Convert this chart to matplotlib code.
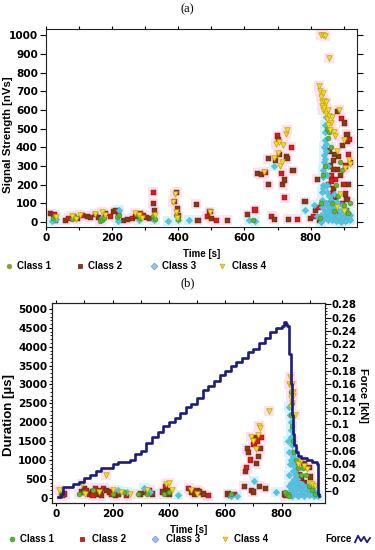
import matplotlib
matplotlib.use("Agg")
import matplotlib.pyplot as plt
from matplotlib.lines import Line2D
import numpy as np

plt.rcParams['font.family'] = ['Liberation Sans', 'DejaVu Sans']

# ---------------- Panel (a) data: Signal Strength [nVs] vs Time [s] ----------------
a_c1_t = [22, 28, 80, 85, 165, 170, 175, 215, 222, 280, 285, 325, 330, 392, 398, 625,
          828, 832, 838, 842, 848, 852, 856, 860, 865, 870, 876, 882, 888, 894, 900, 906, 912, 918]
a_c1_v = [20, 35, 15, 30, 5, 10, 20, 25, 40, 40, 20, 30, 15, 40, 15, 10,
          20, 100, 250, 300, 500, 450, 480, 400, 100, 60, 200, 140, 320, 280, 90, 60, 50, 100]

a_c2_t = [15, 25, 30, 60, 70, 85, 95, 110, 125, 135, 150, 160, 180, 195, 205, 212, 220, 235, 248,
          262, 272, 285, 295, 305, 315, 325, 325, 328, 388, 395, 397, 400, 455, 460, 488, 496, 500,
          515, 548, 610, 632, 640, 652, 662, 672, 672, 682, 690, 695, 700, 703, 706, 712, 716, 720,
          722, 726, 730, 742, 747, 733, 760, 783, 800, 808, 815, 820, 823, 828, 848, 855, 858, 860,
          864, 868, 870, 874, 882, 885, 892, 896, 902, 905, 910, 912, 915, 914, 905, 895, 886, 876,
          866, 880, 890, 900, 910, 920, 862, 868, 872, 918, 908, 898]
a_c2_v = [45, 40, 10, 10, 20, 30, 20, 35, 30, 25, 40, 25, 45, 30, 55, 60, 45, 10, 15,
          20, 30, 45, 35, 25, 20, 160, 100, 60, 110, 160, 70, 35, 95, 10, 30, 55, 20,
          10, 10, 40, 65, 260, 255, 265, 340, 200, 30, 15, 330, 460, 440, 360, 260, 200, 225,
          130, 350, 340, 400, 275, 15, 15, 110, 20, 30, 60, 230, 80, 10, 100, 200, 380, 300,
          250, 330, 180, 230, 590, 350, 555, 410, 530, 300, 470, 430, 360, 200, 150, 100, 50, 130,
          150, 280, 250, 200, 120, 320, 220, 280, 360, 440, 60, 30]

a_c3_t = [20, 30, 170, 220, 218, 282, 328, 368, 398, 433, 615, 632, 690, 782, 810, 820,
          830, 832, 833, 834, 835, 836, 837, 838, 839, 840, 841, 842, 843, 844, 846,
          835, 840, 845, 850, 852, 855, 858, 860, 862, 865, 868, 870, 872, 875, 878, 880, 883, 886,
          889, 892, 895, 898, 901, 904, 907, 910, 913, 916, 920, 845, 850, 848, 852, 846, 850, 855, 842,
          836, 838, 840, 843, 846, 849, 853, 857, 861, 866, 871, 877, 884, 891, 898, 905, 912, 918]
a_c3_v = [5, 15, 20, 65, 5, 10, 10, 5, 10, 10, 10, 5, 300, 65, 90, 30,
          0, 40, 80, 120, 160, 200, 240, 280, 320, 360, 400, 440, 480, 520, 560,
          10, 30, 20, 50, 10, 80, 30, 120, 60, 15, 90, 40, 150, 20, 70, 110, 35, 10,
          60, 25, 90, 45, 15, 70, 30, 10, 50, 20, 40, 100, 160, 250, 300, 380, 200, 140, 60,
          100, 180, 260, 340, 420, 60, 20, 100, 40, 10, 70, 5, 30, 0, 20, 5, 30, 10]

a_c4_t = [30, 80, 90, 102, 150, 170, 178, 270, 282, 292, 330, 385, 390, 393, 396, 495, 660,
          695, 700, 704, 708, 713, 718, 725, 730, 690, 832, 838, 843, 856, 826, 829, 831, 833, 835,
          838, 841, 845, 848, 851, 855, 860, 864, 870, 875, 880, 886, 900, 905, 915, 920, 890, 900,
          880, 836, 840, 846, 852, 858]
a_c4_v = [25, 30, 15, 40, 45, 55, 40, 50, 40, 20, 40, 110, 150, 55, 20, 55, 270,
          420, 370, 430, 300, 320, 410, 470, 490, 345, 1000, 1000, 995, 880, 730, 700, 670, 640, 620,
          600, 610, 580, 550, 600, 570, 530, 560, 480, 460, 380, 600, 440, 290, 330, 310, 150, 60,
          80, 690, 650, 640, 520, 490]

# ---------------- Panel (b) data: Duration [us] vs Time [s], Force [kN] ----------------
b_c1_t = [15, 80, 100, 132, 200, 240, 290, 322, 382, 402, 622, 812, 822, 832, 836, 840, 844,
          850, 858, 868, 878, 888, 898, 908, 918, 826, 835, 838]
b_c1_v = [100, 100, 150, 200, 100, 150, 100, 100, 100, 150, 100, 150, 100, 2800, 2500, 1500, 1200,
          1000, 800, 600, 800, 600, 300, 200, 100, 50, 2200, 1900]

b_c2_t = [20, 30, 90, 100, 108, 118, 128, 138, 148, 158, 168, 178, 188, 198, 210, 220, 250, 300,
          318, 332, 342, 378, 388, 394, 400, 470, 480, 490, 500, 510, 522, 540, 610, 620, 632, 668,
          672, 676, 678, 684, 690, 694, 700, 702, 706, 710, 714, 718, 724, 728, 722, 742, 810, 816,
          852, 862, 872, 882, 892, 902, 912, 922, 880, 898, 870, 160, 140, 130]
b_c2_v = [50, 100, 150, 250, 200, 100, 150, 250, 200, 100, 250, 200, 150, 100, 50, 100, 50, 100,
          150, 200, 100, 150, 300, 200, 100, 250, 150, 100, 200, 150, 100, 50, 100, 50, 80, 300,
          700, 800, 1300, 1200, 1000, 200, 150, 1400, 1600, 900, 1500, 1100, 1300, 1600, 300, 250, 100, 50,
          900, 600, 500, 400, 200, 550, 300, 100, 900, 800, 300, 50, 100, 50]

b_c3_t = [220, 250, 310, 332, 432, 622, 642, 702, 782,
          828, 830, 832, 833, 835, 836, 838, 840, 842, 845, 848, 850, 855, 860, 865, 870,
          820, 825, 828, 830, 826, 824, 832, 835, 838, 842, 845, 850, 852, 856, 860, 864, 868, 872,
          876, 880, 884, 888, 892, 896, 900, 905, 910, 915, 920, 925, 930, 840, 845, 835]
b_c3_v = [200, 150, 250, 150, 80, 50, 50, 450, 150,
          2400, 2200, 2000, 1800, 1600, 1400, 1200, 1100, 950, 850, 700, 600, 500, 400, 300, 250,
          100, 300, 600, 900, 1200, 1500, 400, 200, 50, 300, 150, 400, 100, 250, 50, 200, 100, 350,
          150, 50, 250, 120, 300, 60, 200, 100, 250, 50, 150, 80, 40, 700, 500, 1000]

b_c4_t = [10, 90, 102, 150, 175, 200, 230, 262, 322, 390, 400, 410, 480, 500, 690, 700, 710, 715,
          720, 725, 755, 830, 828, 833, 838, 842, 835, 838, 832, 848, 860, 880, 900, 910, 920, 870,
          890, 836, 840]
b_c4_v = [200, 350, 100, 150, 600, 200, 150, 100, 200, 350, 400, 200, 200, 100, 1600, 1500, 1300, 1650,
          1900, 1850, 2300, 3200, 3000, 2950, 3000, 2800, 2650, 2500, 2400, 2200, 900, 850, 400, 350, 300, 1000,
          750, 2800, 2700]

force_t = [5, 15, 25, 60, 80, 100, 120, 140, 160, 200, 220, 260, 280, 300, 320, 340, 360, 380,
           400, 420, 440, 460, 480, 500, 520, 540, 560, 580, 600, 620, 640, 660, 680, 700, 720, 740,
           760, 780, 800, 810, 815, 820, 825, 828, 832, 836, 840, 845, 850, 860, 870, 890, 910, 925,
           928, 935]
force_kN = [-0.0083, -0.0044, 0.0058, 0.0098, 0.0137, 0.0194, 0.024, 0.0307, 0.0352, 0.041, 0.0437,
            0.0466, 0.055, 0.0607, 0.072, 0.0805, 0.089, 0.0975, 0.103, 0.109, 0.117, 0.126, 0.131,
            0.140, 0.151, 0.157, 0.165, 0.174, 0.180, 0.188, 0.194, 0.199, 0.208, 0.213, 0.222, 0.230,
            0.239, 0.245, 0.248, 0.253, 0.250, 0.248, 0.233, 0.205, 0.160, 0.114, 0.086, 0.069, 0.058,
            0.052, 0.0494, 0.047, 0.0437, 0.041, -0.0044, -0.0072]

# ---------------- styles ----------------
C1_FACE, C1_EDGE = '#5cb82e', '#3d8a1a'
C2_BROWN, C2_RED = '#8a3a12', '#d81c1c'
C3_FACE, C3_EDGE = '#36d4dc', '#9a92e0'
C4_FACE, C4_EDGE = '#eae21a', '#d09a10'
HALO_PINK, HALO_CYAN = '#fbe1f3', '#d4f6fa'
NAVY = '#1c1c7e'


def draw_classes(ax, c1, c2, c3, c4):
    for (t, v), col in [(c2, HALO_PINK), (c4, HALO_PINK), (c1, HALO_PINK), (c3, HALO_CYAN)]:
        ax.scatter(t, v, s=60, marker='s', color=col, linewidths=0, zorder=1)
    c2cols = [C2_RED if i % 3 == 1 else C2_BROWN for i in range(len(c2[0]))]
    ax.scatter(c2[0], c2[1], s=14, marker='s', c=c2cols, edgecolors='#5a200a', linewidths=0.3, zorder=3)
    ax.scatter(c3[0], c3[1], s=11, marker='D', color=C3_FACE, edgecolors=C3_EDGE, linewidths=0.4, zorder=4)
    ax.scatter(c1[0], c1[1], s=12, marker='o', color=C1_FACE, edgecolors=C1_EDGE, linewidths=0.4, zorder=4)
    ax.scatter(c4[0], c4[1], s=16, marker='v', color=C4_FACE, edgecolors=C4_EDGE, linewidths=0.5, zorder=5)


def style_axis(ax, size, ylen, ypad, xlen=2.5, xpad=1.5):
    ax.tick_params(which='major', direction='out', width=0.8)
    ax.tick_params(axis='x', which='major', length=xlen, pad=xpad)
    ax.tick_params(axis='y', which='major', length=ylen, pad=ypad)
    for lab in ax.get_xticklabels() + ax.get_yticklabels():
        lab.set_fontfamily('DejaVu Sans')
        lab.set_fontweight('bold')
        lab.set_fontsize(size)
    for sp in ax.spines.values():
        sp.set_linewidth(0.8)
        sp.set_color('#222222')


fig = plt.figure(figsize=(3.75, 5.5), dpi=100)

# ---------------- Panel (a) ----------------
axa = fig.add_axes([0.122, 0.587, 0.830, 0.360])
draw_classes(axa, (a_c1_t, a_c1_v), (a_c2_t, a_c2_v), (a_c3_t, a_c3_v), (a_c4_t, a_c4_v))
axa.set_xlim(0, 940)
axa.set_ylim(-27, 1032)
xt = list(range(0, 901, 100))
axa.set_xticks(xt)
axa.set_xticklabels([str(x) if x % 200 == 0 else '' for x in xt])
axa.set_yticks(range(0, 1001, 100))
axa.tick_params(top=True, right=True)
style_axis(axa, 7.6, ylen=4.5, ypad=1.2)
axa.set_xlabel('Time [s]', fontsize=7, fontweight='bold')
axa.xaxis.set_label_coords(0.5, -0.111)
axa.set_ylabel('Signal Strength [nVs]', fontsize=8.2, fontweight='bold', va='center')
axa.yaxis.set_label_coords(-0.120, 0.465)
fig.text(0.5, 0.984, '(a)', ha='center', va='center', fontsize=9, family='Liberation Serif')

# ---------------- Panel (b) ----------------
axb = fig.add_axes([0.139, 0.0855, 0.728, 0.3636])
draw_classes(axb, (b_c1_t, b_c1_v), (b_c2_t, b_c2_v), (b_c3_t, b_c3_v), (b_c4_t, b_c4_v))
axb.set_xlim(-15, 955)
axb.set_ylim(-140, 5160)
xt = list(range(0, 901, 100))
axb.set_xticks(xt)
axb.set_xticklabels([str(x) if x % 200 == 0 else '' for x in xt])
axb.set_yticks(range(0, 5001, 500))
axb.set_yticks(range(0, 5001, 100), minor=True)
axb.tick_params(top=True)
axb.tick_params(which='minor', direction='out', length=1.5, width=0.6)
style_axis(axb, 7.6, ylen=2.5, ypad=1.0)
axb.set_xlabel('Time [s]', fontsize=7, fontweight='bold')
axb.xaxis.set_label_coords(0.5, -0.11)
axb.set_ylabel('Duration [µs]', fontsize=9.5, fontweight='bold', va='center')
axb.yaxis.set_label_coords(-0.158, 0.44)

axf = axb.twinx()
axf.step(force_t, force_kN, where='post', color=NAVY, lw=1.9, zorder=6)
axf.set_ylim(-0.018, 0.282)
ft = [round(0.02 * i, 2) for i in range(15)]
axf.set_yticks(ft)
axf.set_yticklabels(['%g' % f for f in ft])
axf.set_yticks([round(0.005 * i, 3) for i in range(57)], minor=True)
axf.tick_params(which='minor', direction='out', length=1.5, width=0.6)
style_axis(axf, 7.3, ylen=4.0, ypad=0.5)
axf.set_ylabel('Force [kN]', fontsize=8, fontweight='bold', rotation=270, va='center')
axf.yaxis.set_label_coords(1.139, 0.54)
fig.text(0.5, 0.485, '(b)', ha='center', va='center', fontsize=9, family='Liberation Serif')

# ---------------- legends ----------------
def legend_row(y, items):
    for (xm, xt_, marker, face, edge, label) in items:
        fig.add_artist(Line2D([xm], [y], marker=marker, markersize=3.4, markerfacecolor=face,
                              markeredgecolor=edge, markeredgewidth=0.5, linestyle='none',
                              transform=fig.transFigure))
        fig.text(xt_, y, label, ha='left', va='center', fontsize=7, fontweight='bold')

ya = 1 - 266 / 550
legend_row(ya, [(9 / 375, 17 / 375, 'o', C1_FACE, '#d08020', 'Class 1'),
                (80 / 375, 88 / 375, 's', C2_BROWN, '#5a200a', 'Class 2'),
                (154 / 375, 162 / 375, 'D', '#9ac4ea', '#7090d0', 'Class 3'),
                (222 / 375, 232 / 375, 'v', C4_FACE, C4_EDGE, 'Class 4')])
yb = 1 - 539 / 550
legend_row(yb, [(12 / 375, 20 / 375, 'o', C1_FACE, C1_EDGE, 'Class 1'),
                (82 / 375, 92 / 375, 's', C2_RED, '#8a1010', 'Class 2'),
                (155 / 375, 166 / 375, 'D', '#9ac4ea', '#7090d0', 'Class 3'),
                (225 / 375, 234 / 375, 'v', C4_FACE, C4_EDGE, 'Class 4')])
fig.text(325 / 375, yb, 'Force', ha='left', va='center', fontsize=7, fontweight='bold')
zx = np.array([355, 358, 361, 364, 367, 370]) / 375
zy = yb + np.array([-0.006, 0.006, -0.004, 0.004, -0.006, 0.002])
fig.add_artist(Line2D(zx, zy, color=NAVY, lw=1.3, transform=fig.transFigure))

fig.savefig('out.png', dpi=100)
